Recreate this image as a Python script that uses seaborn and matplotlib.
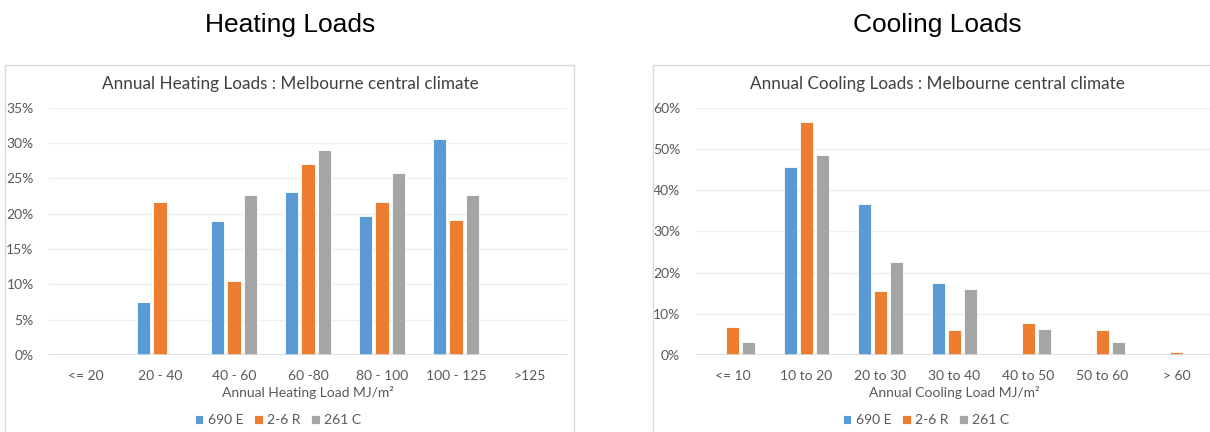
import matplotlib
matplotlib.use("Agg")
import matplotlib.pyplot as plt
from matplotlib.patches import Rectangle
from matplotlib.ticker import PercentFormatter
import pandas as pd
import seaborn as sns

# ---- data -----------------------------------------------------------------
series = ["690 E", "2-6 R", "261 C"]

heating_bins = ["<= 20", "20 - 40", "40 - 60", "60 -80", "80 - 100", "100 - 125", ">125"]
heating_690E = [0.0, 7.5, 19.0, 23.1, 19.7, 30.6, 0.0]
heating_26R = [0.0, 21.7, 10.4, 27.0, 21.7, 19.1, 0.0]
heating_261C = [0.0, 0.0, 22.6, 29.0, 25.8, 22.6, 0.0]

cooling_bins = ["<= 10", "10 to 20", "20 to 30", "30 to 40", "40 to 50", "50 to 60", "> 60"]
cooling_690E = [0.0, 45.5, 36.7, 17.5, 0.0, 0.0, 0.0]
cooling_26R = [6.9, 56.4, 15.6, 6.1, 7.7, 6.1, 0.7]
cooling_261C = [3.2, 48.4, 22.6, 16.1, 6.4, 3.2, 0.0]

colors = ["#5B9BD5", "#ED7D31", "#A5A5A5"]


def long_frame(bins, *cols):
    rows = []
    for name, vals in zip(series, cols):
        for b, v in zip(bins, vals):
            if v > 0:
                rows.append({"bin": b, "series": name, "share": v})
    return pd.DataFrame(rows)


heating = long_frame(heating_bins, heating_690E, heating_26R, heating_261C)
cooling = long_frame(cooling_bins, cooling_690E, cooling_26R, cooling_261C)

# ---- figure ---------------------------------------------------------------
sns.set_theme(style="white")
plt.rcParams["font.family"] = ["Lato", "DejaVu Sans"]

W, H = 1210, 432
fig = plt.figure(figsize=(W / 100, H / 100), dpi=100)
fig.patch.set_facecolor("white")

text_col = "#595959"
title_col = "#404040"


def px(x, y):
    return x / W, 1 - y / H


# chart frames
for x0, x1 in [(5, 574), (653, 1240)]:
    fig.add_artist(Rectangle(px(x0, 440), (x1 - x0) / W, (440 - 65) / H,
                             transform=fig.transFigure, fill=False,
                             edgecolor="#d9d9d9", linewidth=1.0))

# section headings
fig.text(*px(290, 25), "Heating Loads", ha="center", va="center",
         fontsize=19, family=["Liberation Sans", "DejaVu Sans"], color="black")
fig.text(*px(937, 25), "Cooling Loads", ha="center", va="center",
         fontsize=19, family=["Liberation Sans", "DejaVu Sans"], color="black")

ax_bottom = (H - 355) / H
ax_height = (355 - 107.5) / H

panels = [
    dict(data=heating, order=heating_bins, left=49, right=567, ymax=35, step=5,
         title="Annual Heating Loads : Melbourne central climate", title_x=290,
         xlabel="Annual Heating Load MJ/m²", legend_x=278),
    dict(data=cooling, order=cooling_bins, left=695.5, right=1213.5, ymax=60, step=10,
         title="Annual Cooling Loads : Melbourne central climate", title_x=937,
         xlabel="Annual Cooling Load MJ/m²", legend_x=926),
]

for p in panels:
    ax = fig.add_axes([p["left"] / W, ax_bottom, (p["right"] - p["left"]) / W, ax_height])
    sns.barplot(data=p["data"], x="bin", y="share", hue="series",
                order=p["order"], hue_order=series, palette=colors,
                width=0.66, gap=0.2, edgecolor="white", linewidth=0.6,
                saturation=1, ax=ax)
    ax.set_xlim(-0.5, len(p["order"]) - 0.5)
    ax.set_ylim(0, p["ymax"])
    ax.set_yticks(range(0, p["ymax"] + 1, p["step"]))
    ax.yaxis.set_major_formatter(PercentFormatter(decimals=0))
    ax.grid(axis="y", color="#efefef", linewidth=1.0)
    ax.set_axisbelow(True)
    ax.axhline(0, color="#d9d9d9", linewidth=1.2, zorder=1)
    for s in ax.spines.values():
        s.set_visible(False)
    ax.tick_params(axis="y", length=0, pad=11, labelsize=10, labelcolor=text_col)
    ax.tick_params(axis="x", length=0, pad=11, labelsize=10, labelcolor=text_col)
    ax.set_ylabel("")
    ax.set_xlabel(p["xlabel"], fontsize=10, color=text_col, labelpad=3)

    handles, labels = ax.get_legend_handles_labels()
    ax.get_legend().remove()
    fig.legend(handles, labels, loc="center", bbox_to_anchor=px(p["legend_x"], 420),
               ncol=3, frameon=False, fontsize=10, labelcolor=text_col,
               handlelength=0.6, handleheight=0.6, handletextpad=0.3,
               columnspacing=0.8, borderaxespad=0)

    fig.text(*px(p["title_x"], 84), p["title"], ha="center", va="center",
             fontsize=12.3, color=title_col)

fig.savefig("out.png", dpi=100, facecolor="white")
